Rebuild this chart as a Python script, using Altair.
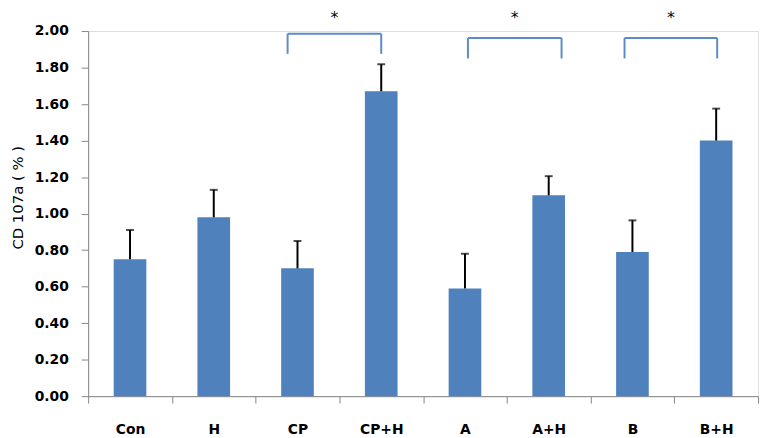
import altair as alt
import pandas as pd

categories = ["Con", "H", "CP", "CP+H", "A", "A+H", "B", "B+H"]
means = [0.75, 0.98, 0.70, 1.67, 0.59, 1.10, 0.79, 1.40]
errors = [0.16, 0.15, 0.15, 0.148, 0.19, 0.105, 0.173, 0.175]
y_ticks = [0.0, 0.2, 0.4, 0.6, 0.8, 1.0, 1.2, 1.4, 1.6, 1.8, 2.0]

br_left = ["CP", "A", "B"]
br_right = ["CP+H", "A+H", "B+H"]
br_top = [1.985, 1.962, 1.962]
br_bottom = [1.875, 1.85, 1.85]
star_y = [2.117, 2.115, 2.115]
star_text = ["*", "*", "*"]

df = pd.DataFrame({"cat": categories, "mean": means, "err": errors})
df["hi"] = df["mean"] + df["err"]

W, H = 677, 369
step = W / len(categories)
BAR = "#4F81BD"
BRK = "#5B8CC8"

xscale = alt.Scale(domain=categories, paddingInner=0, paddingOuter=0)
xaxis = alt.Axis(title=None, labelAngle=0, labelFont="DejaVu Sans",
                 labelFontSize=14, labelFontWeight="bold", labelColor="black",
                 labelPadding=20, tickBand="extent", tickSize=7,
                 tickColor="#868686", domainColor="#868686")
yscale = alt.Scale(domain=[0, 2], nice=False)
yaxis = alt.Axis(title="CD 107a ( % )", values=y_ticks, labelOverlap=False,
                 format=".2f", grid=False, labelFont="DejaVu Sans",
                 labelFontSize=14, labelFontWeight="bold", labelColor="black",
                 labelPadding=13, tickSize=7, tickColor="#868686",
                 domainColor="#868686", titleFont="DejaVu Sans",
                 titleFontSize=15, titleFontWeight="normal", titleColor="black",
                 titleX=-71, titleY=168, titleBaseline="middle", titleAngle=270)


def X(field):
    return alt.X(field, type="nominal", scale=xscale, axis=xaxis)


def Y(field):
    return alt.Y(field, type="quantitative", scale=yscale, axis=yaxis)


base = alt.Chart(df)
bars = base.mark_bar(color=BAR, size=33).encode(x=X("cat"), y=Y("mean"))
err = base.mark_rule(color="black", strokeWidth=2).encode(
    x=X("cat"), y=Y("mean"), y2="hi:Q")
caps = base.mark_tick(color="black", size=8, thickness=2, orient="horizontal").encode(
    x=X("cat"), y=Y("hi"))

layers = [bars, err, caps]
offsets = [(-10, 0), (3, 13), (-8, 1)]
for i in range(len(br_left)):
    dl, dr = offsets[i]
    bd = pd.DataFrame({"l": [br_left[i]], "r": [br_right[i]], "t": [br_top[i]],
                       "b": [br_bottom[i]], "s": [star_y[i]], "txt": [star_text[i]]})
    bc = alt.Chart(bd)
    layers.append(bc.mark_rule(color=BRK, strokeWidth=2, xOffset=dl, x2Offset=dr).encode(
        x=X("l"), x2="r:N", y=Y("t")))
    layers.append(bc.mark_rule(color=BRK, strokeWidth=2, xOffset=dl).encode(
        x=X("l"), y=Y("t"), y2="b:Q"))
    layers.append(bc.mark_rule(color=BRK, strokeWidth=2, xOffset=dr).encode(
        x=X("r"), y=Y("t"), y2="b:Q"))
    layers.append(bc.mark_text(font="DejaVu Sans", fontSize=16, color="black",
                               baseline="top", xOffset=(step + dl + dr) / 2).encode(
        x=X("l"), y=Y("s"), text="txt:N"))

chart = alt.layer(*layers).properties(
    width=W, height=H,
    autosize=alt.AutoSizeParams(type="none"),
    padding={"left": 81, "top": 21, "right": 4, "bottom": 40},
).configure_view(stroke=None).configure(background="white")

chart.save("out.html", embed_options={"renderer": "svg", "actions": False})
